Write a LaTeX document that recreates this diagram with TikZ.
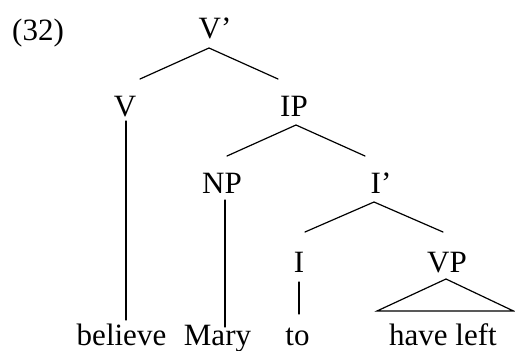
\documentclass[tikz,border=0pt]{standalone}
\usepackage{fontspec}
\setmainfont{Liberation Serif}
\usetikzlibrary{calc}
\tikzset{
  cat/.style={font=\fontsize{31}{31}\selectfont,inner sep=0pt,anchor=base},
  branch/.style={line width=1.2pt,line cap=round}
}

\begin{document}
\begin{tikzpicture}[x=1pt,y=-1pt]
  \useasboundingbox (0,0) rectangle (515,351);
  % labels of the tree
  \node[cat,anchor=base west] (exnum) at (12,40) {(32)};
  \node[cat] (vbar) at (215,38) {V’};
  \node[cat] (v) at (125,116) {V};
  \node[cat] (ip) at (294,116) {IP};
  \node[cat] (np) at (222,193) {NP};
  \node[cat] (ibar) at (381,193) {I’};
  \node[cat] (i) at (299,272) {I};
  \node[cat] (vp) at (447,272) {VP};
  % words
  \node[cat] (believe) at (121.5,345) {believe};
  \node[cat] (mary) at (217.5,345) {Mary};
  \node[cat] (to) at (297.5,345) {to};
  \node[cat] (haveleft) at (443,345) {have left};
  % branches
  \draw[branch] ($(v.base)+(15,-37)$) -- ($(vbar.base)+(-6,10)$) -- ($(ip.base)+(-16,-37)$);
  \draw[branch] ($(v.base)+(1,5)$) -- ($(believe.base)+(4.5,-25)$);
  \draw[branch] ($(np.base)+(5,-37)$) -- ($(ip.base)+(2,9)$) -- ($(ibar.base)+(-16,-37)$);
  \draw[branch] ($(np.base)+(3,7)$) -- ($(mary.base)+(7.5,-18)$);
  \draw[branch] ($(i.base)+(6,-40)$) -- ($(ibar.base)+(-7,9)$) -- ($(vp.base)+(-4,-40)$);
  \draw[branch] ($(i.base)+(0,10)$) -- ($(to.base)+(1.5,-31)$);
  \draw[branch] ($(haveleft.base)+(-66,-34)$) -- ($(vp.base)+(-1,7)$)
    -- ($(haveleft.base)+(70.5,-34)$) -- cycle;
\end{tikzpicture}
\end{document}
